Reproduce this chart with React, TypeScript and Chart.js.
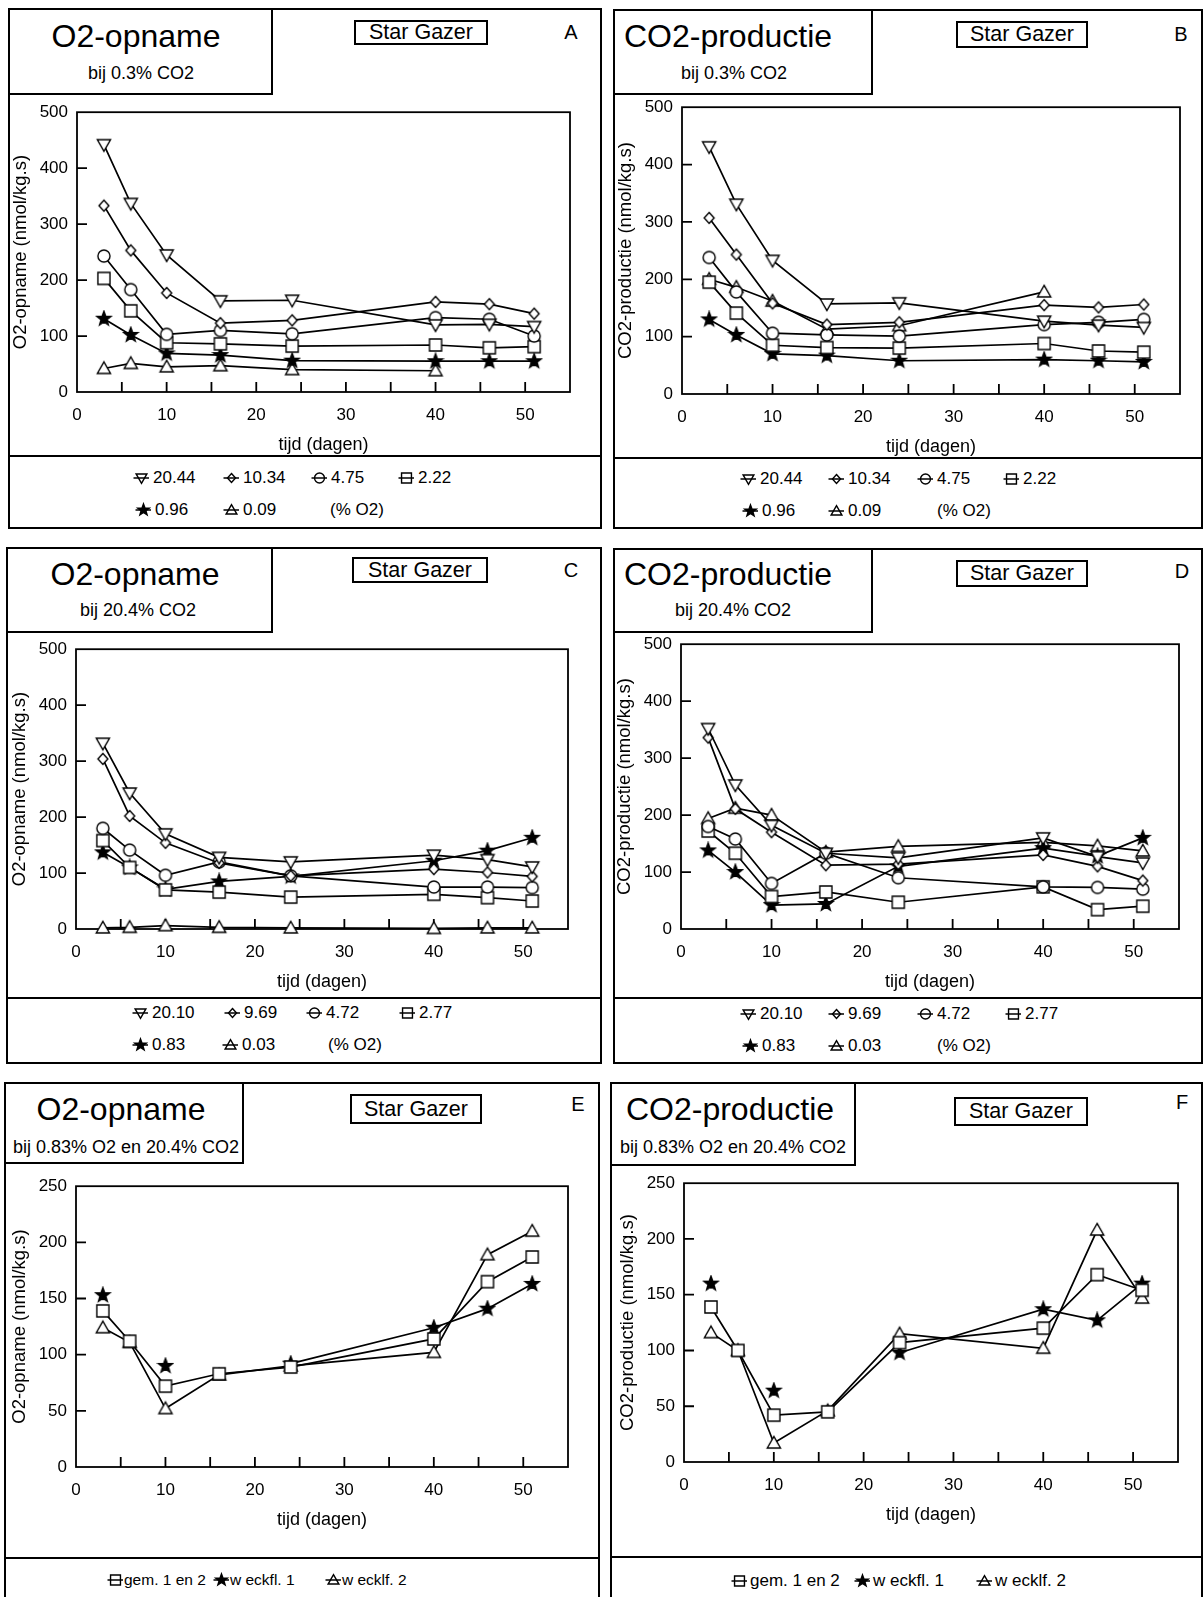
import React, { useEffect, useRef } from 'react';
import { Chart, registerables } from 'chart.js';

Chart.register(...registerables);

const FONT = "'Liberation Sans', Arial, Helvetica, sans-serif";

// Sampling days (x values shared by every panel)
const days = [3, 6, 10, 16, 24, 40, 46, 51];
const xTickLabels = [0, 10, 20, 30, 40, 50];
const yTicks500 = [0, 100, 200, 300, 400, 500];
const yTicks250 = [0, 50, 100, 150, 200, 250];

// Oxygen levels (% O2) used in the storage trials
const o2LevelsLowCo2 = ['20.44', '10.34', '4.75', '2.22', '0.96', '0.09'];
const o2LevelsHighCo2 = ['20.10', '9.69', '4.72', '2.77', '0.83', '0.03'];
const jarLabels = ['gem. 1 en 2', 'w eckfl. 1', 'w ecklf. 2'];

// A: O2 uptake at 0.3% CO2 (nmol/kg.s)
const a2044 = [442, 337, 245, 163, 164, 120, 121, 117];
const a1034 = [333, 253, 177, 123, 128, 161, 157, 140];
const a475 = [243, 183, 103, 110, 104, 133, 130, 100];
const a222 = [203, 145, 88, 86, 82, 84, 79, 81];
const a096 = [131, 102, 69, 66, 56, 55, 55, 55];
const a009 = [42, 51, 45, 47, 40, 38, null, null];

// B: CO2 production at 0.3% CO2
const b2044 = [431, 331, 233, 157, 159, 127, 120, 116];
const b1034 = [307, 243, 158, 121, 125, 155, 151, 156];
const b475 = [238, 178, 106, 103, 101, 121, 125, 130];
const b222 = [195, 141, 85, 81, 80, 88, 75, 73];
const b096 = [130, 103, 70, 67, 58, 60, 58, 56];
const b009 = [200, 186, 162, 113, 119, 178, null, null];

// C: O2 uptake at 20.4% CO2
const c2010 = [332, 243, 170, 128, 120, 132, 124, 111];
const c969 = [304, 202, 154, 118, 95, 107, 101, 94];
const c472 = [180, 141, 96, 120, 95, 75, 75, 74];
const c277 = [158, 110, 70, 66, 57, 62, 56, 50];
const c083 = [137, 110, 71, 85, 94, 122, 140, 163];
const c003 = [2, 3, 6, 3, 2, 1, 2, 2];

// D: CO2 production at 20.4% CO2
const d2010 = [352, 253, 182, 133, 125, 160, 127, 116];
const d969 = [336, 211, 170, 112, 114, 130, 110, 85];
const d472 = [180, 158, 80, 133, 90, 74, 73, 70];
const d277 = [172, 133, 57, 65, 47, 74, 34, 40];
const d083 = [138, 100, 42, 44, 110, 142, 128, 160];
const d003 = [194, 212, 200, 135, 145, 152, 146, 137];

// E: O2 uptake at 0.83% O2 and 20.4% CO2
const eGem = [139, 112, 72, 83, 89, 114, 165, 187];
const eFl1 = [153, null, 90, null, 92, 124, 141, 163];
const eFl2 = [124, 111, 52, 82, 90, 102, 189, 210];

// F: CO2 production at 0.83% O2 and 20.4% CO2
const fGem = [139, 100, 42, 45, 107, 120, 168, 154];
const fFl1 = [160, null, 64, null, 98, 137, 127, 160];
const fFl2 = [116, 100, 17, 46, 115, 102, 208, 147];

type Marker = 'triDown' | 'diamond' | 'circle' | 'square' | 'star' | 'triUp';
const sixMarkers: Marker[] = ['triDown', 'diamond', 'circle', 'square', 'star', 'triUp'];
const threeMarkers: Marker[] = ['square', 'star', 'triUp'];

function drawMarker(ctx: CanvasRenderingContext2D, kind: Marker, cx: number, cy: number, s: number) {
  ctx.save();
  ctx.lineWidth = 1.4;
  ctx.strokeStyle = '#000';
  ctx.fillStyle = kind === 'star' ? '#000' : '#fff';
  ctx.beginPath();
  if (kind === 'triDown') {
    ctx.moveTo(cx - 6 * s, cy - 4.5 * s);
    ctx.lineTo(cx + 6 * s, cy - 4.5 * s);
    ctx.lineTo(cx, cy + 6 * s);
    ctx.closePath();
  } else if (kind === 'triUp') {
    ctx.moveTo(cx - 6 * s, cy + 4.5 * s);
    ctx.lineTo(cx + 6 * s, cy + 4.5 * s);
    ctx.lineTo(cx, cy - 6 * s);
    ctx.closePath();
  } else if (kind === 'diamond') {
    ctx.moveTo(cx, cy - 5 * s);
    ctx.lineTo(cx + 4.5 * s, cy);
    ctx.lineTo(cx, cy + 5 * s);
    ctx.lineTo(cx - 4.5 * s, cy);
    ctx.closePath();
  } else if (kind === 'circle') {
    ctx.arc(cx, cy, 5.5 * s, 0, Math.PI * 2);
  } else if (kind === 'square') {
    ctx.rect(cx - 5.5 * s, cy - 5.5 * s, 11 * s, 11 * s);
  } else {
    for (let i = 0; i < 10; i++) {
      const r = (i % 2 === 0 ? 6.8 : 2.8) * s;
      const a = -Math.PI / 2 + (i * Math.PI) / 5;
      const px = cx + r * Math.cos(a);
      const py = cy + r * Math.sin(a);
      if (i === 0) ctx.moveTo(px, py);
      else ctx.lineTo(px, py);
    }
    ctx.closePath();
  }
  ctx.fill();
  ctx.stroke();
  ctx.restore();
}

function markerImage(kind: Marker): HTMLCanvasElement {
  const c = document.createElement('canvas');
  c.width = 18;
  c.height = 18;
  const ctx = c.getContext('2d')!;
  drawMarker(ctx, kind, 9, 9, 1.1);
  return c;
}

type Series = { label: string; values: (number | null)[]; marker: Marker };
type LegendItem = { x: number; s?: number; text?: string };
type PanelCfg = {
  key: string;
  box: [number, number, number, number];
  tbox: [number, number];
  title: string;
  titleX: number;
  titleY: number;
  sub: string;
  subX: number;
  subY: number;
  star: [number, number, number, number];
  letter: [number, number];
  plot: [number, number, number, number];
  yTicks: number[];
  yTitle: string;
  sep: number;
  series: Series[];
  legendRows: LegendItem[][];
  legendY: number[];
  legendFont: number;
  legendGap: number;
};

const mk = (labels: string[], markers: Marker[], vals: (number | null)[][]): Series[] =>
  vals.map((v, i) => ({ label: labels[i], values: v, marker: markers[i] }));

const O2_TITLE = 'O2-opname (nmol/kg.s)';
const CO2_TITLE = 'CO2-productie (nmol/kg.s)';

const panels: PanelCfg[] = [
  {
    key: 'A', box: [8, 8, 594, 521], tbox: [265, 87],
    title: 'O2-opname', titleX: 128, titleY: 28, sub: 'bij 0.3% CO2', subX: 133, subY: 65,
    star: [346, 12, 134, 25], letter: [563, 24], plot: [77, 112, 570, 392],
    yTicks: yTicks500, yTitle: O2_TITLE, sep: 448,
    series: mk(o2LevelsLowCo2, sixMarkers, [a2044, a1034, a475, a222, a096, a009]),
    legendRows: [
      [{ x: 125, s: 0 }, { x: 215, s: 1 }, { x: 303, s: 2 }, { x: 390, s: 3 }],
      [{ x: 127, s: 4 }, { x: 215, s: 5 }, { x: 322, text: '(% O2)' }],
    ],
    legendY: [470, 502], legendFont: 17, legendGap: 4,
  },
  {
    key: 'B', box: [613, 9, 590, 520], tbox: [260, 86],
    title: 'CO2-productie', titleX: 115, titleY: 27, sub: 'bij 0.3% CO2', subX: 121, subY: 64,
    star: [343, 12, 132, 27], letter: [568, 25], plot: [682, 107, 1180, 394],
    yTicks: yTicks500, yTitle: CO2_TITLE, sep: 449,
    series: mk(o2LevelsLowCo2, sixMarkers, [b2044, b1034, b475, b222, b096, b009]),
    legendRows: [
      [{ x: 127, s: 0 }, { x: 215, s: 1 }, { x: 304, s: 2 }, { x: 390, s: 3 }],
      [{ x: 129, s: 4 }, { x: 215, s: 5 }, { x: 324, text: '(% O2)' }],
    ],
    legendY: [470, 502], legendFont: 17, legendGap: 4,
  },
  {
    key: 'C', box: [6, 547, 596, 517], tbox: [267, 86],
    title: 'O2-opname', titleX: 129, titleY: 27, sub: 'bij 20.4% CO2', subX: 132, subY: 63,
    star: [346, 10, 136, 26], letter: [565, 23], plot: [76, 649, 568, 929],
    yTicks: yTicks500, yTitle: O2_TITLE, sep: 451,
    series: mk(o2LevelsHighCo2, sixMarkers, [c2010, c969, c472, c277, c083, c003]),
    legendRows: [
      [{ x: 126, s: 0 }, { x: 218, s: 1 }, { x: 300, s: 2 }, { x: 393, s: 3 }],
      [{ x: 126, s: 4 }, { x: 216, s: 5 }, { x: 322, text: '(% O2)' }],
    ],
    legendY: [466, 498], legendFont: 17, legendGap: 4,
  },
  {
    key: 'D', box: [613, 548, 590, 516], tbox: [260, 85],
    title: 'CO2-productie', titleX: 115, titleY: 26, sub: 'bij 20.4% CO2', subX: 120, subY: 62,
    star: [343, 12, 132, 27], letter: [569, 23], plot: [681, 644, 1179, 929],
    yTicks: yTicks500, yTitle: CO2_TITLE, sep: 450,
    series: mk(o2LevelsHighCo2, sixMarkers, [d2010, d969, d472, d277, d083, d003]),
    legendRows: [
      [{ x: 127, s: 0 }, { x: 215, s: 1 }, { x: 304, s: 2 }, { x: 392, s: 3 }],
      [{ x: 129, s: 4 }, { x: 215, s: 5 }, { x: 324, text: '(% O2)' }],
    ],
    legendY: [466, 498], legendFont: 17, legendGap: 4,
  },
  {
    key: 'E', box: [4, 1082, 596, 530], tbox: [240, 82],
    title: 'O2-opname', titleX: 117, titleY: 27, sub: 'bij 0.83% O2 en 20.4% CO2', subX: 122, subY: 65,
    star: [346, 12, 132, 30], letter: [574, 22], plot: [76, 1186, 568, 1467],
    yTicks: yTicks250, yTitle: O2_TITLE, sep: 476,
    series: mk(jarLabels, threeMarkers, [eGem, eFl1, eFl2]),
    legendRows: [[{ x: 103, s: 0 }, { x: 209, s: 1 }, { x: 321, s: 2 }]],
    legendY: [498], legendFont: 15.5, legendGap: 1,
  },
  {
    key: 'F', box: [610, 1082, 593, 530], tbox: [246, 84],
    title: 'CO2-productie', titleX: 120, titleY: 27, sub: 'bij 0.83% O2 en 20.4% CO2', subX: 123, subY: 65,
    star: [344, 15, 134, 29], letter: [572, 20], plot: [684, 1183, 1178, 1462],
    yTicks: yTicks250, yTitle: CO2_TITLE, sep: 475,
    series: mk(jarLabels, threeMarkers, [fGem, fFl1, fFl2]),
    legendRows: [[{ x: 121, s: 0 }, { x: 244, s: 1 }, { x: 366, s: 2 }]],
    legendY: [499], legendFont: 17, legendGap: 3,
  },
];

const PAD_L = 72;
const PAD_T = 14;
const PAD_R = 14;
const PAD_B = 64;

function PlotCanvas({ cfg }: { cfg: PanelCfg }) {
  const ref = useRef<HTMLCanvasElement | null>(null);
  const [l, t, r, b] = cfg.plot;
  const w = r - l + PAD_L + PAD_R;
  const h = b - t + PAD_T + PAD_B;

  useEffect(() => {
    const canvas = ref.current;
    if (!canvas) return;
    const yMax = cfg.yTicks[cfg.yTicks.length - 1];
    const yStep = cfg.yTicks[1] - cfg.yTicks[0];
    const tickFont = { family: FONT, size: 17 };

    const framePlugin = {
      id: 'frameAndTicks',
      beforeDatasetsDraw(chart: any) {
        const { ctx, chartArea: a, scales } = chart;
        ctx.save();
        ctx.strokeStyle = '#000';
        ctx.lineWidth = 1.8;
        ctx.strokeRect(a.left, a.top, a.right - a.left, a.bottom - a.top);
        ctx.beginPath();
        for (let v = 5; v <= 50; v += 5) {
          const px = scales.x.getPixelForValue(v);
          ctx.moveTo(px, a.bottom);
          ctx.lineTo(px, a.bottom - 10);
        }
        for (let v = yStep; v < yMax; v += yStep) {
          const py = scales.y.getPixelForValue(v);
          ctx.moveTo(a.left, py);
          ctx.lineTo(a.left + 10, py);
        }
        ctx.stroke();
        ctx.restore();
      },
    };

    const datasets = cfg.series.map((s) => ({
      label: s.label,
      data: days.map((d, i) => ({ x: d, y: s.values[i] })),
      borderColor: '#000',
      backgroundColor: '#fff',
      borderWidth: 1.7,
      pointStyle: markerImage(s.marker) as any,
      pointRadius: 6,
      pointHoverRadius: 6,
      fill: false,
      tension: 0,
      spanGaps: false,
      clip: false as any,
    }));

    const chart = new Chart(canvas, {
      type: 'line',
      data: { datasets },
      options: {
        animation: false,
        responsive: false,
        maintainAspectRatio: false,
        devicePixelRatio: 1,
        events: [],
        layout: { padding: { top: PAD_T, right: PAD_R, left: 0, bottom: 0 } },
        plugins: { legend: { display: false }, tooltip: { enabled: false } },
        scales: {
          x: {
            type: 'linear',
            min: 0,
            max: 55,
            grid: { display: false, drawTicks: false },
            border: { display: false },
            ticks: {
              stepSize: 10,
              includeBounds: false,
              padding: 13,
              color: '#000',
              font: tickFont,
              maxRotation: 0,
              autoSkip: false,
              callback: (v: any) => (xTickLabels.includes(Number(v)) ? String(v) : ''),
            },
            title: {
              display: true,
              text: 'tijd (dagen)',
              color: '#000',
              font: { family: FONT, size: 18 },
              padding: { top: 0, bottom: 0 },
            },
            afterFit: (s: any) => {
              s.height = PAD_B;
            },
          },
          y: {
            type: 'linear',
            min: 0,
            max: yMax,
            grid: { display: false, drawTicks: false },
            border: { display: false },
            ticks: {
              stepSize: yStep,
              padding: 9,
              color: '#000',
              font: tickFont,
              callback: (v: any) => (cfg.yTicks.includes(Number(v)) ? String(v) : ''),
            },
            title: {
              display: true,
              text: cfg.yTitle,
              color: '#000',
              font: { family: FONT, size: 18.5 },
              padding: { top: 5, bottom: 0 },
            },
            afterFit: (s: any) => {
              s.width = PAD_L;
            },
          },
        },
      } as any,
      plugins: [framePlugin],
    });

    // size the canvas so that the plotting area lands exactly on the panel's plot box
    const a0 = chart.chartArea;
    const dW = Math.round(r - l - (a0.right - a0.left));
    const dH = Math.round(b - t - (a0.bottom - a0.top));
    if (dW !== 0 || dH !== 0) chart.resize(w + dW, h + dH);
    const a1 = chart.chartArea;
    canvas.style.left = `${Math.round(l - a1.left)}px`;
    canvas.style.top = `${Math.round(t - a1.top)}px`;

    return () => chart.destroy();
  }, [cfg]);

  return (
    <canvas
      ref={ref}
      width={w}
      height={h}
      style={{ position: 'absolute', left: l - PAD_L, top: t - PAD_T, width: w, height: h }}
    />
  );
}

function LegendMark({ kind }: { kind: Marker }) {
  const ref = useRef<HTMLCanvasElement | null>(null);
  useEffect(() => {
    const c = ref.current;
    if (!c) return;
    const ctx = c.getContext('2d')!;
    ctx.clearRect(0, 0, c.width, c.height);
    drawMarker(ctx, kind, 8.5, 8, 0.9);
    ctx.strokeStyle = '#000';
    ctx.lineWidth = 1.5;
    ctx.beginPath();
    ctx.moveTo(0.5, 8);
    ctx.lineTo(16, 8);
    ctx.stroke();
  }, [kind]);
  return <canvas ref={ref} width={16} height={16} style={{ width: 16, height: 16, display: 'block' }} />;
}

function Panel({ cfg }: { cfg: PanelCfg }) {
  const [px, py, pw, ph] = cfg.box;
  const [tw, th] = cfg.tbox;
  const [sx, sy, sw, sh] = cfg.star;
  const text: React.CSSProperties = { position: 'absolute', whiteSpace: 'nowrap', color: '#000' };
  return (
    <>
      <div
        style={{
          position: 'absolute', left: px, top: py, width: pw, height: ph,
          border: '2px solid #000', boxSizing: 'border-box',
        }}
      />
      <div
        style={{
          position: 'absolute', left: px, top: py, width: tw, height: th,
          border: '2px solid #000', boxSizing: 'border-box', background: '#fff',
        }}
      />
      <div style={{ ...text, left: px + cfg.titleX - 150, top: py + cfg.titleY - 20, width: 300, height: 40, lineHeight: '40px', textAlign: 'center', fontSize: 32 }}>
        {cfg.title}
      </div>
      <div style={{ ...text, left: px + cfg.subX - 150, top: py + cfg.subY - 12, width: 300, height: 24, lineHeight: '24px', textAlign: 'center', fontSize: 18 }}>
        {cfg.sub}
      </div>
      <div
        style={{
          position: 'absolute', left: px + sx, top: py + sy, width: sw, height: sh,
          border: '2px solid #000', boxSizing: 'border-box', textAlign: 'center',
          fontSize: 21.5, lineHeight: `${sh - 4}px`, whiteSpace: 'nowrap',
        }}
      >
        Star Gazer
      </div>
      <div style={{ ...text, left: px + cfg.letter[0] - 15, top: py + cfg.letter[1] - 15, width: 30, height: 30, lineHeight: '30px', textAlign: 'center', fontSize: 20 }}>
        {cfg.key}
      </div>
      <div style={{ position: 'absolute', left: px, top: py + cfg.sep - 1, width: pw, height: 2, background: '#000' }} />
      {cfg.legendRows.map((row, ri) =>
        row.map((item, ii) => (
          <div
            key={`${ri}-${ii}`}
            style={{
              position: 'absolute', left: px + item.x, top: py + cfg.legendY[ri] - 10, height: 20,
              display: 'flex', alignItems: 'center', whiteSpace: 'nowrap', fontSize: cfg.legendFont, lineHeight: '20px',
            }}
          >
            {item.s !== undefined ? (
              <>
                <LegendMark kind={cfg.series[item.s].marker} />
                <span style={{ marginLeft: cfg.legendGap }}>{cfg.series[item.s].label}</span>
              </>
            ) : (
              <span>{item.text}</span>
            )}
          </div>
        ))
      )}
      <PlotCanvas cfg={cfg} />
    </>
  );
}

export default function App() {
  return (
    <div
      style={{
        position: 'absolute', left: 0, top: 0, width: 1203, height: 1597,
        background: '#fff', overflow: 'hidden', fontFamily: FONT, color: '#000',
      }}
    >
      {panels.map((p) => (
        <Panel key={p.key} cfg={p} />
      ))}
    </div>
  );
}
